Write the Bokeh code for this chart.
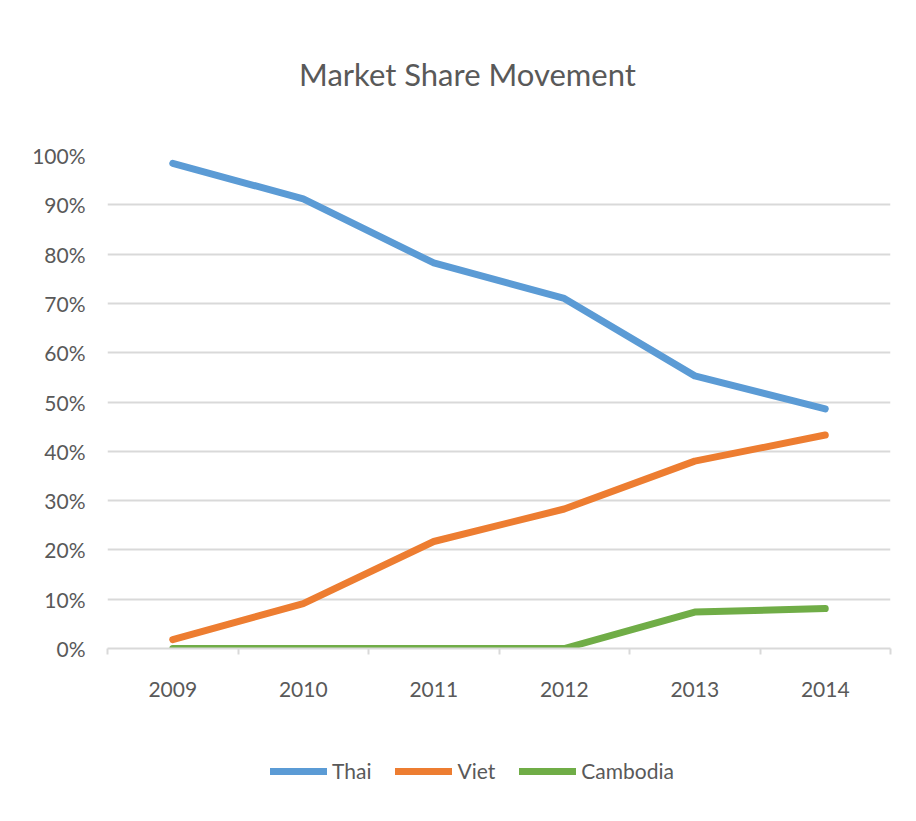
from bokeh.plotting import figure
from bokeh.layouts import column
from bokeh.models import Range1d, FixedTicker, Legend, LegendItem, Label, NumeralTickFormatter
from bokeh.embed import file_html
from bokeh.resources import INLINE

years = [2009, 2010, 2011, 2012, 2013, 2014]
thai = [0.984, 0.912, 0.782, 0.71, 0.553, 0.486]
viet = [0.018, 0.091, 0.217, 0.283, 0.38, 0.433]
cambodia = [0.0, 0.0, 0.0, 0.0, 0.074, 0.081]
series_names = ["Thai", "Viet", "Cambodia"]
y_ticks = [0.0, 0.1, 0.2, 0.3, 0.4, 0.5, 0.6, 0.7, 0.8, 0.9, 1.0]
title_text = "Market Share Movement"

colors = ["#5B9BD5", "#ED7D31", "#70AD47"]
FONT = "Lato"
TXT = "#595959"
GRID = "#d9d9d9"


def strip(height):
    f = figure(width=900, height=height, output_backend="svg", toolbar_location=None,
               x_range=Range1d(0, 783), y_range=Range1d(0, height),
               x_axis_type=None, y_axis_type=None, min_border=0)
    f.outline_line_color = None
    f.grid.visible = False
    return f


# title strip
tt = strip(120)
tt.add_layout(Label(x=360, y=47, text=title_text, text_align="center", text_baseline="middle",
                    text_font=FONT, text_font_size="31px", text_color=TXT))

# main chart
p = figure(width=900, height=603, output_backend="svg", toolbar_location=None,
           x_range=Range1d(2008.5, 2014.5), y_range=Range1d(0, 1),
           min_border_left=107, min_border_right=10, min_border_top=35, min_border_bottom=75)
p.outline_line_color = None
p.background_fill_color = "white"
p.border_fill_color = "white"

p.xaxis.ticker = FixedTicker(ticks=years, minor_ticks=[y - 0.5 for y in years] + [years[-1] + 0.5])
p.xaxis.axis_line_color = GRID
p.xaxis.axis_line_width = 2
p.xaxis.major_tick_line_color = None
p.xaxis.major_tick_out = 0
p.xaxis.major_tick_in = 0
p.xaxis.minor_tick_line_color = GRID
p.xaxis.minor_tick_line_width = 2
p.xaxis.minor_tick_out = 6
p.xaxis.minor_tick_in = 0
p.xaxis.major_label_text_font = FONT
p.xaxis.major_label_text_font_size = "21px"
p.xaxis.major_label_text_color = TXT
p.xaxis.major_label_standoff = 27

p.yaxis.ticker = FixedTicker(ticks=y_ticks)
p.yaxis.formatter = NumeralTickFormatter(format="0%")
p.yaxis.axis_line_color = None
p.yaxis.major_tick_line_color = None
p.yaxis.minor_tick_line_color = None
p.yaxis.major_tick_out = 0
p.yaxis.major_label_text_font = FONT
p.yaxis.major_label_text_font_size = "21px"
p.yaxis.major_label_text_color = TXT
p.yaxis.major_label_standoff = 22

p.xgrid.grid_line_color = None
p.ygrid.ticker = FixedTicker(ticks=y_ticks)
p.ygrid.grid_line_color = GRID
p.ygrid.grid_line_width = 2

series = [thai, viet, cambodia]
for name, vals, c in zip(series_names, series, colors):
    p.line(years, vals, line_color=c, line_width=7, line_cap="round", line_join="round")

# legend strip (its lines use the same data, kept outside this strip's view)
lg = strip(90)
lg_renderers = [lg.line(years, vals, line_color=c, line_width=7, line_cap="round")
                for vals, c in zip(series, colors)]
legend = Legend(items=[LegendItem(label=n, renderers=[r]) for n, r in zip(series_names, lg_renderers)],
                orientation="horizontal", location=(163, 30),
                glyph_width=57, glyph_height=24, label_standoff=5, spacing=24,
                label_text_font=FONT, label_text_font_size="21px", label_text_color=TXT,
                border_line_color=None, background_fill_alpha=0, padding=2, margin=0)
lg.add_layout(legend, "center")

layout = column(tt, p, lg, spacing=0)
open("out.html", "w").write(file_html(layout, INLINE))
